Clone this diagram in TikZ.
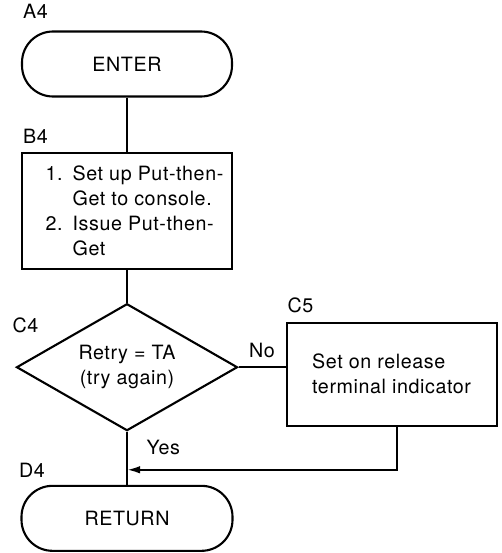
\documentclass[tikz,border=0pt]{standalone}
\usepackage{fontspec}
\setmainfont{TeX Gyre Heros}[LetterSpace=3]
\usetikzlibrary{shapes.geometric, arrows.meta, positioning}

\begin{document}
\begin{tikzpicture}[
  node distance=1.1cm and 0.98cm,
  every node/.style={font=\fontsize{11.2}{14.2}\selectfont},
  term/.style={rectangle, rounded corners=0.62cm, draw, line width=1.2pt,
               minimum width=4.2cm, minimum height=1.3cm},
  proc/.style={rectangle, draw, line width=1.2pt, minimum width=4.2cm, align=left},
  dec/.style={diamond, draw, line width=1.2pt, minimum width=4.42cm,
              minimum height=2.54cm, shape aspect=1.74, inner sep=0pt, align=center},
  tag/.style={anchor=south west, inner sep=1pt},
  lbl/.style={inner sep=2pt},
  line/.style={line width=1.2pt},
  arr/.style={line, -{Latex[length=2.6mm, width=1.5mm]}}
]
\useasboundingbox (0,0) rectangle (10.02,-11.06);

% ---- Main column ----
\node[term] (enter) at (2.54,-1.28) {ENTER};
\node[proc, below=1.08cm of enter, minimum height=2.32cm] (setup)
  {\hspace*{0.3cm}\makebox[0.54cm][l]{1.}Set up Put-then-\\\hspace*{0.84cm}Get to console.\\
   \hspace*{0.3cm}\makebox[0.54cm][l]{2.}Issue Put-then-\\\hspace*{0.84cm}Get};
\node[dec, below=0.66cm of setup] (retry) {Retry = TA\\(try again)};
\node[term, below=1.06cm of retry, minimum width=4.22cm, minimum height=1.3cm] (retn) {RETURN};
\coordinate[below=0.76cm of retry.south] (join);

% ---- Side branch ----
\node[proc, right=0.94cm of retry, yshift=-0.14cm, minimum height=2.06cm] (setrel)
  {Set on release\\terminal indicator};

% ---- Block tags ----
\node[tag] (tagA4) at ([yshift=0.19cm]enter.north west) {A4};
\node[tag] (tagB4) at ([yshift=0.11cm]setup.north west) {B4};
\node[tag] (tagC4) at ([shift={(-0.1cm,0.64cm)}]retry.west) {C4};
\node[tag] (tagC5) at ([yshift=0.14cm]setrel.north west) {C5};
\node[tag] (tagD4) at ([shift={(-0.07cm,0.11cm)}]retn.north west) {D4};

% ---- Connectors ----
\draw[line] (enter) -- (setup);
\draw[line] (setup) -- (retry);
\draw[line] (retry.east) -- node[lbl, above=3pt, midway] (no) {No} (retry.east -| setrel.west);
\draw[line] (retry.south) -- node[lbl, right, pos=0.29, xshift=0.3cm] (yes) {Yes} (retn.north);
\draw[arr] ([xshift=0.1cm]setrel.south) |- (join);

\end{tikzpicture}
\end{document}
